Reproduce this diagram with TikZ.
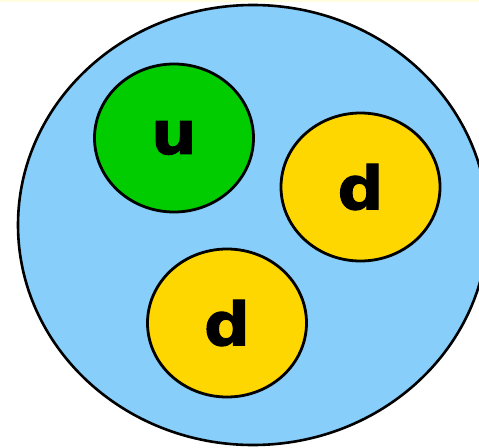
\documentclass[tikz,border=0pt]{standalone}
\usepackage{fontspec}
\setmainfont{DejaVu Sans}
\newfontfamily\quarkfont[FakeBold=1.5]{DejaVu Sans Bold}
\usetikzlibrary{shapes.geometric}
\definecolor{skyfill}{HTML}{87CEFA}
\definecolor{quarkgreen}{HTML}{00CC00}
\definecolor{quarkgold}{HTML}{FFD700}
\definecolor{topstrip}{HTML}{FFFFE0}
\tikzset{
  hadron/.style={ellipse, draw=black, line width=2.6pt, fill=skyfill, inner sep=0pt,
    minimum width=470pt, minimum height=440pt},
  quark/.style={ellipse, draw=black, line width=2.8pt, inner sep=0pt,
    minimum width=159pt, minimum height=148pt,
    font=\fontsize{60}{60}\quarkfont},
}
\begin{document}
\begin{tikzpicture}[x=1pt,y=-1pt]
\clip (0,0) rectangle (479,447);
\fill[white] (0,0) rectangle (479,447);
\fill[topstrip] (0,0) rectangle (479,1.5);
\node[hadron] (proton) at (253,225) {};
\node[quark, fill=quarkgreen] (up) at (174,138) {\scalebox{1.07}[1]{u}};
\node[quark, fill=quarkgold] (downA) at (360.5,187) {\scalebox{1.07}[1]{d}};
\node[quark, fill=quarkgold] (downB) at (227,323) {\scalebox{1.07}[1]{d}};
\end{tikzpicture}
\end{document}
